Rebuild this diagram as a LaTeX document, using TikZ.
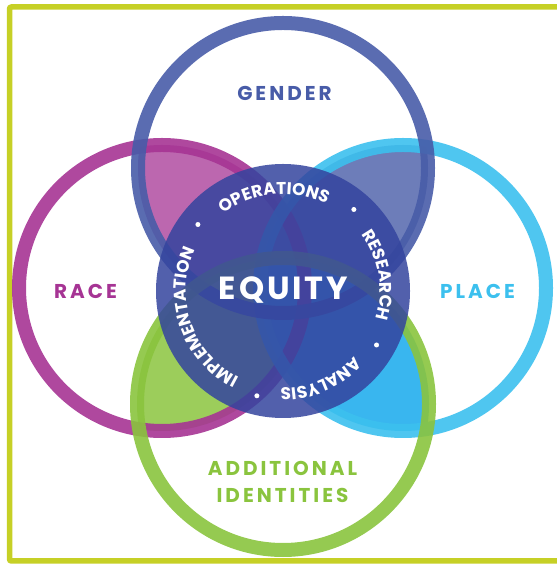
\documentclass[tikz,border=0pt]{standalone}
\usepackage{fontspec}
\setmainfont{Poppins}
\usetikzlibrary{decorations.text}

\definecolor{framecol}{RGB}{198,208,38}
\definecolor{gendercol}{RGB}{72,92,168}
\definecolor{racecol}{RGB}{166,52,148}
\definecolor{placecol}{RGB}{60,192,238}
\definecolor{addcol}{RGB}{138,196,62}
\definecolor{equitycol}{RGB}{52,68,158}

\tikzset{
	ring/.style={line width=14, draw opacity=0.9},
	catname/.style={font=\bfseries\fontsize{20}{20}\selectfont\addfontfeatures{LetterSpace=15}, inner sep=0, anchor=base},
	wordarc/.style={decorate, decoration={text along path, text align=center,
		text={|\bfseries\color{white}\fontsize{17}{17}\selectfont|#1}}}
}

\begin{document}
\begin{tikzpicture}[x=1pt, y=1pt]
	\useasboundingbox (0,0) rectangle (556,564);
	\coordinate (cg) at (283,396);
	\coordinate (cr) at (162,276);
	\coordinate (cp) at (403,276);
	\coordinate (ca) at (283,160);
	\coordinate (ce) at (283,273);
	\draw [framecol, line width=5.5, rounded corners=2] (570,557) -- (9.5,557) -- (9.5,3) -- (570,3);
	\begin{scope}
		\clip (cr) circle (143);
		\fill [racecol!75] (cg) circle (145);
		\fill [addcol!85] (ca) circle (146);
	\end{scope}
	\begin{scope}
		\clip (cp) circle (143);
		\fill [gendercol!80] (cg) circle (145);
		\fill [placecol!95!blue] (ca) circle (146);
	\end{scope}
	\draw [ring, racecol] (cr) circle (143);
	\draw [ring, placecol] (cp) circle (143);
	\draw [ring, gendercol] (cg) circle (145);
	\draw [ring, addcol] (ca) circle (146);
	\fill [equitycol, fill opacity=0.85] (ce) circle (127);
	\node [catname, gendercol] (gender) at (284.5,463) {GENDER};
	\node [catname, racecol] (race) at (85.5,265) {RACE};
	\node [catname, placecol] (place) at (477.5,265) {PLACE};
	\node [catname, addcol] (addl) at (282.5,88) {ADDITIONAL};
	\node [catname, addcol] (ident) at (282.5,61) {IDENTITIES};
	\node [catname, white, font=\bfseries\fontsize{32}{32}\selectfont\addfontfeatures{LetterSpace=9}] (equity) at (283.5,264) {EQUITY};
	\path [wordarc=OPERATIONS] (ce) ++(142:97) arc [start angle=142, end angle=49, radius=97];
	\path [wordarc=RESEARCH] (ce) ++(49:97) arc [start angle=49, end angle=-30, radius=97];
	\path [wordarc=ANALYSIS] (ce) ++(-30:97) arc [start angle=-30, end angle=-104, radius=97];
	\path [wordarc=IMPLEMENTATION] (ce) ++(-104:97) arc [start angle=-104, end angle=-218, radius=97];
	\foreach \a in {49,-30,-104,142}
		\fill [white] (ce) ++(\a:108) circle (2.5);
\end{tikzpicture}
\end{document}
